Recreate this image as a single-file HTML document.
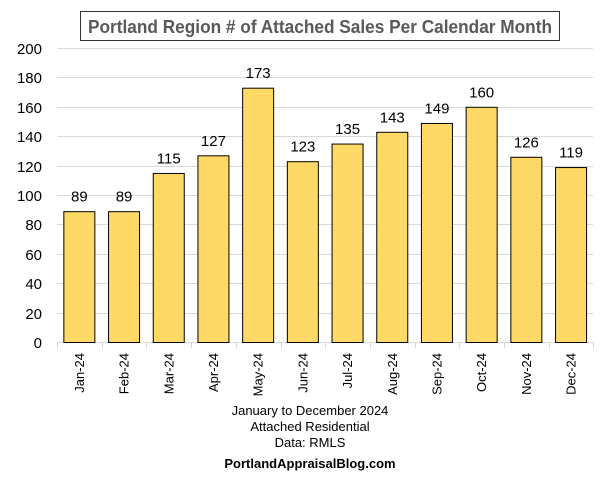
<!DOCTYPE html>
<html><head><style>body{margin:0;background:#fff}svg{display:block}text{font-family:"Liberation Sans",sans-serif}</style></head><body>
<svg width="606" height="480" xmlns="http://www.w3.org/2000/svg">
<rect x="80.5" y="11.5" width="479" height="29" fill="#fff" stroke="#333" stroke-width="1"/>
<text x="320" y="33" text-anchor="middle" font-size="18" font-weight="bold" fill="#595959" textLength="464" lengthAdjust="spacingAndGlyphs">Portland Region # of Attached Sales Per Calendar Month</text>
<g stroke="#d9d9d9" stroke-width="1">
<line x1="57" x2="593" y1="48.5" y2="48.5"/><line x1="57" x2="593" y1="77.5" y2="77.5"/><line x1="57" x2="593" y1="107.5" y2="107.5"/><line x1="57" x2="593" y1="136.5" y2="136.5"/><line x1="57" x2="593" y1="166.5" y2="166.5"/><line x1="57" x2="593" y1="195.5" y2="195.5"/><line x1="57" x2="593" y1="224.5" y2="224.5"/><line x1="57" x2="593" y1="254.5" y2="254.5"/><line x1="57" x2="593" y1="283.5" y2="283.5"/><line x1="57" x2="593" y1="313.5" y2="313.5"/><line x1="57" x2="593" y1="342.5" y2="342.5"/>
</g>
<g font-size="15" text-anchor="end" fill="#000">
<text x="42" y="54">200</text><text x="42" y="83">180</text><text x="42" y="113">160</text><text x="42" y="142">140</text><text x="42" y="172">120</text><text x="42" y="201">100</text><text x="42" y="230">80</text><text x="42" y="260">60</text><text x="42" y="289">40</text><text x="42" y="319">20</text><text x="42" y="348">0</text>
</g>
<g stroke="#d9d9d9"><line x1="57.5" x2="57.5" y1="342" y2="348"/><line x1="102.5" x2="102.5" y1="342" y2="348"/><line x1="146.5" x2="146.5" y1="342" y2="348"/><line x1="191.5" x2="191.5" y1="342" y2="348"/><line x1="236.5" x2="236.5" y1="342" y2="348"/><line x1="281.5" x2="281.5" y1="342" y2="348"/><line x1="325.5" x2="325.5" y1="342" y2="348"/><line x1="370.5" x2="370.5" y1="342" y2="348"/><line x1="415.5" x2="415.5" y1="342" y2="348"/><line x1="459.5" x2="459.5" y1="342" y2="348"/><line x1="504.5" x2="504.5" y1="342" y2="348"/><line x1="549.5" x2="549.5" y1="342" y2="348"/><line x1="593.5" x2="593.5" y1="342" y2="348"/></g>
<g fill="#ffd966" stroke="#000" stroke-width="1">
<rect x="63.85" y="211.67" width="31" height="130.83"/>
<rect x="108.55" y="211.67" width="31" height="130.83"/>
<rect x="153.25" y="173.45" width="31" height="169.05"/>
<rect x="197.95" y="155.81" width="31" height="186.69"/>
<rect x="242.65" y="88.19" width="31" height="254.31"/>
<rect x="287.35" y="161.69" width="31" height="180.81"/>
<rect x="332.05" y="144.05" width="31" height="198.45"/>
<rect x="376.75" y="132.29" width="31" height="210.21"/>
<rect x="421.45" y="123.47" width="31" height="219.03"/>
<rect x="466.15" y="107.3" width="31" height="235.2"/>
<rect x="510.85" y="157.28" width="31" height="185.22"/>
<rect x="555.55" y="167.57" width="31" height="174.93"/>
</g>
<g font-size="15" text-anchor="middle">
<text x="79.35" y="201.7">89</text>
<text x="124.05" y="201.7">89</text>
<text x="168.75" y="163.5">115</text>
<text x="213.45" y="145.8">127</text>
<text x="258.15" y="78.2">173</text>
<text x="302.85" y="151.7">123</text>
<text x="347.55" y="134">135</text>
<text x="392.25" y="122.3">143</text>
<text x="436.95" y="113.5">149</text>
<text x="481.65" y="97.3">160</text>
<text x="526.35" y="147.3">126</text>
<text x="571.05" y="157.6">119</text>
</g>
<g font-size="13" text-anchor="end">
<text transform="translate(83.85,353) rotate(-90)">Jan-24</text>
<text transform="translate(128.55,353) rotate(-90)">Feb-24</text>
<text transform="translate(173.25,353) rotate(-90)">Mar-24</text>
<text transform="translate(217.95,353) rotate(-90)">Apr-24</text>
<text transform="translate(262.65,353) rotate(-90)">May-24</text>
<text transform="translate(307.35,353) rotate(-90)">Jun-24</text>
<text transform="translate(352.05,353) rotate(-90)">Jul-24</text>
<text transform="translate(396.75,353) rotate(-90)">Aug-24</text>
<text transform="translate(441.45,353) rotate(-90)">Sep-24</text>
<text transform="translate(486.15,353) rotate(-90)">Oct-24</text>
<text transform="translate(530.85,353) rotate(-90)">Nov-24</text>
<text transform="translate(575.55,353) rotate(-90)">Dec-24</text>
</g>
<g font-size="13" text-anchor="middle">
<text x="310" y="415">January to December 2024</text>
<text x="310" y="431">Attached Residential</text>
<text x="310" y="447">Data: RMLS</text>
<text x="310" y="468" font-weight="bold">PortlandAppraisalBlog.com</text>
</g>
</svg>
</body></html>
